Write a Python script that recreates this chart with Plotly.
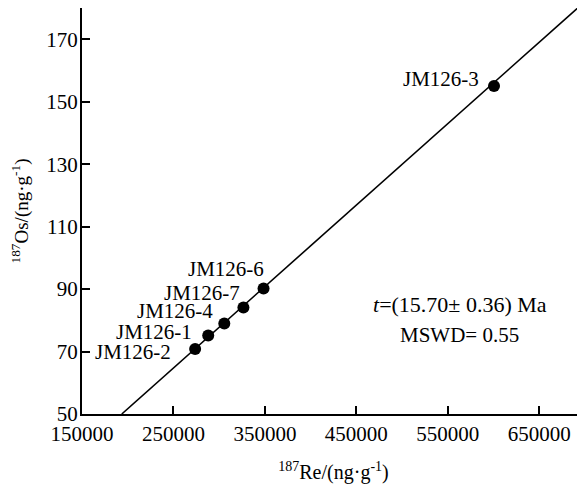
import plotly.graph_objects as go

# Data
sample_names = ["JM126-2", "JM126-1", "JM126-4", "JM126-7", "JM126-6", "JM126-3"]
re187 = [273700, 288000, 305600, 326500, 348500, 600500]
os187 = [70.8, 75.1, 79.0, 84.1, 90.2, 155.0]

# isochron line end points
iso_x = [193500, 692000]
iso_y = [50, 180]

x_ticks = [150000, 250000, 350000, 450000, 550000, 650000]
y_ticks = [50, 70, 90, 110, 130, 150, 170]

age_text = "<i>t</i>=(15.70± 0.36) Ma"
mswd_text = "MSWD= 0.55"

FONT = "Liberation Serif, Times New Roman, serif"
FS = 21

fig = go.Figure()
fig.add_trace(go.Scatter(x=iso_x, y=iso_y, mode="lines",
                         line=dict(color="black", width=1.6), showlegend=False,
                         hoverinfo="skip"))
fig.add_trace(go.Scatter(x=re187, y=os187, mode="markers",
                         marker=dict(color="black", size=12), showlegend=False))

# label offsets (pixels) for each sample label
label_shift = {
    "JM126-2": (-22, -3),
    "JM126-1": (-14, 4),
    "JM126-4": (-9, 12),
    "JM126-7": (-1, 15),
    "JM126-6": (2, 19),
    "JM126-3": (-13, 7),
}
for name, xv, yv in zip(sample_names, re187, os187):
    dx, dy = label_shift[name]
    fig.add_annotation(x=xv, y=yv, text=name, showarrow=False,
                       xanchor="right", yanchor="middle",
                       xshift=dx, yshift=dy,
                       font=dict(family=FONT, size=FS, color="black"))

fig.add_annotation(x=563000, y=85, text=age_text, showarrow=False,
                   xanchor="center", yanchor="middle",
                   font=dict(family=FONT, size=FS + 1, color="black"))
fig.add_annotation(x=563000, y=75.4, text=mswd_text, showarrow=False,
                   xanchor="center", yanchor="middle",
                   font=dict(family=FONT, size=FS, color="black"))

fig.update_layout(
    width=577, height=479,
    margin=dict(l=74, r=0, t=0, b=73, autoexpand=False),
    plot_bgcolor="white", paper_bgcolor="white",
    font=dict(family=FONT, size=FS, color="black"),
)
fig.update_xaxes(range=[150000, 700000], tickvals=x_ticks,
                 ticktext=[str(v) for v in x_ticks],
                 ticks="inside", ticklen=8, tickwidth=1.5, tickcolor="black",
                 showline=True, linecolor="black", linewidth=2, mirror=True,
                 showgrid=False, zeroline=False, automargin=False,
                 title=dict(text="<sup>187</sup>Re/(ng·g<sup>-1</sup>)", standoff=20,
                            font=dict(family=FONT, size=20)),
                 tickfont=dict(family=FONT, size=FS))
fig.update_yaxes(range=[50, 180], tickvals=y_ticks,
                 ticktext=[str(v) for v in y_ticks],
                 ticks="inside", ticklen=8, tickwidth=1.5, tickcolor="black",
                 showline=True, linecolor="black", linewidth=2,
                 showgrid=False, zeroline=False, automargin=False,
                 ticklabelstandoff=-2,
                 title=dict(text="<sup>187</sup>Os/(ng·g<sup>-1</sup>)", standoff=16,
                            font=dict(family=FONT, size=19)),
                 tickfont=dict(family=FONT, size=FS))

fig.write_html("out.html")
